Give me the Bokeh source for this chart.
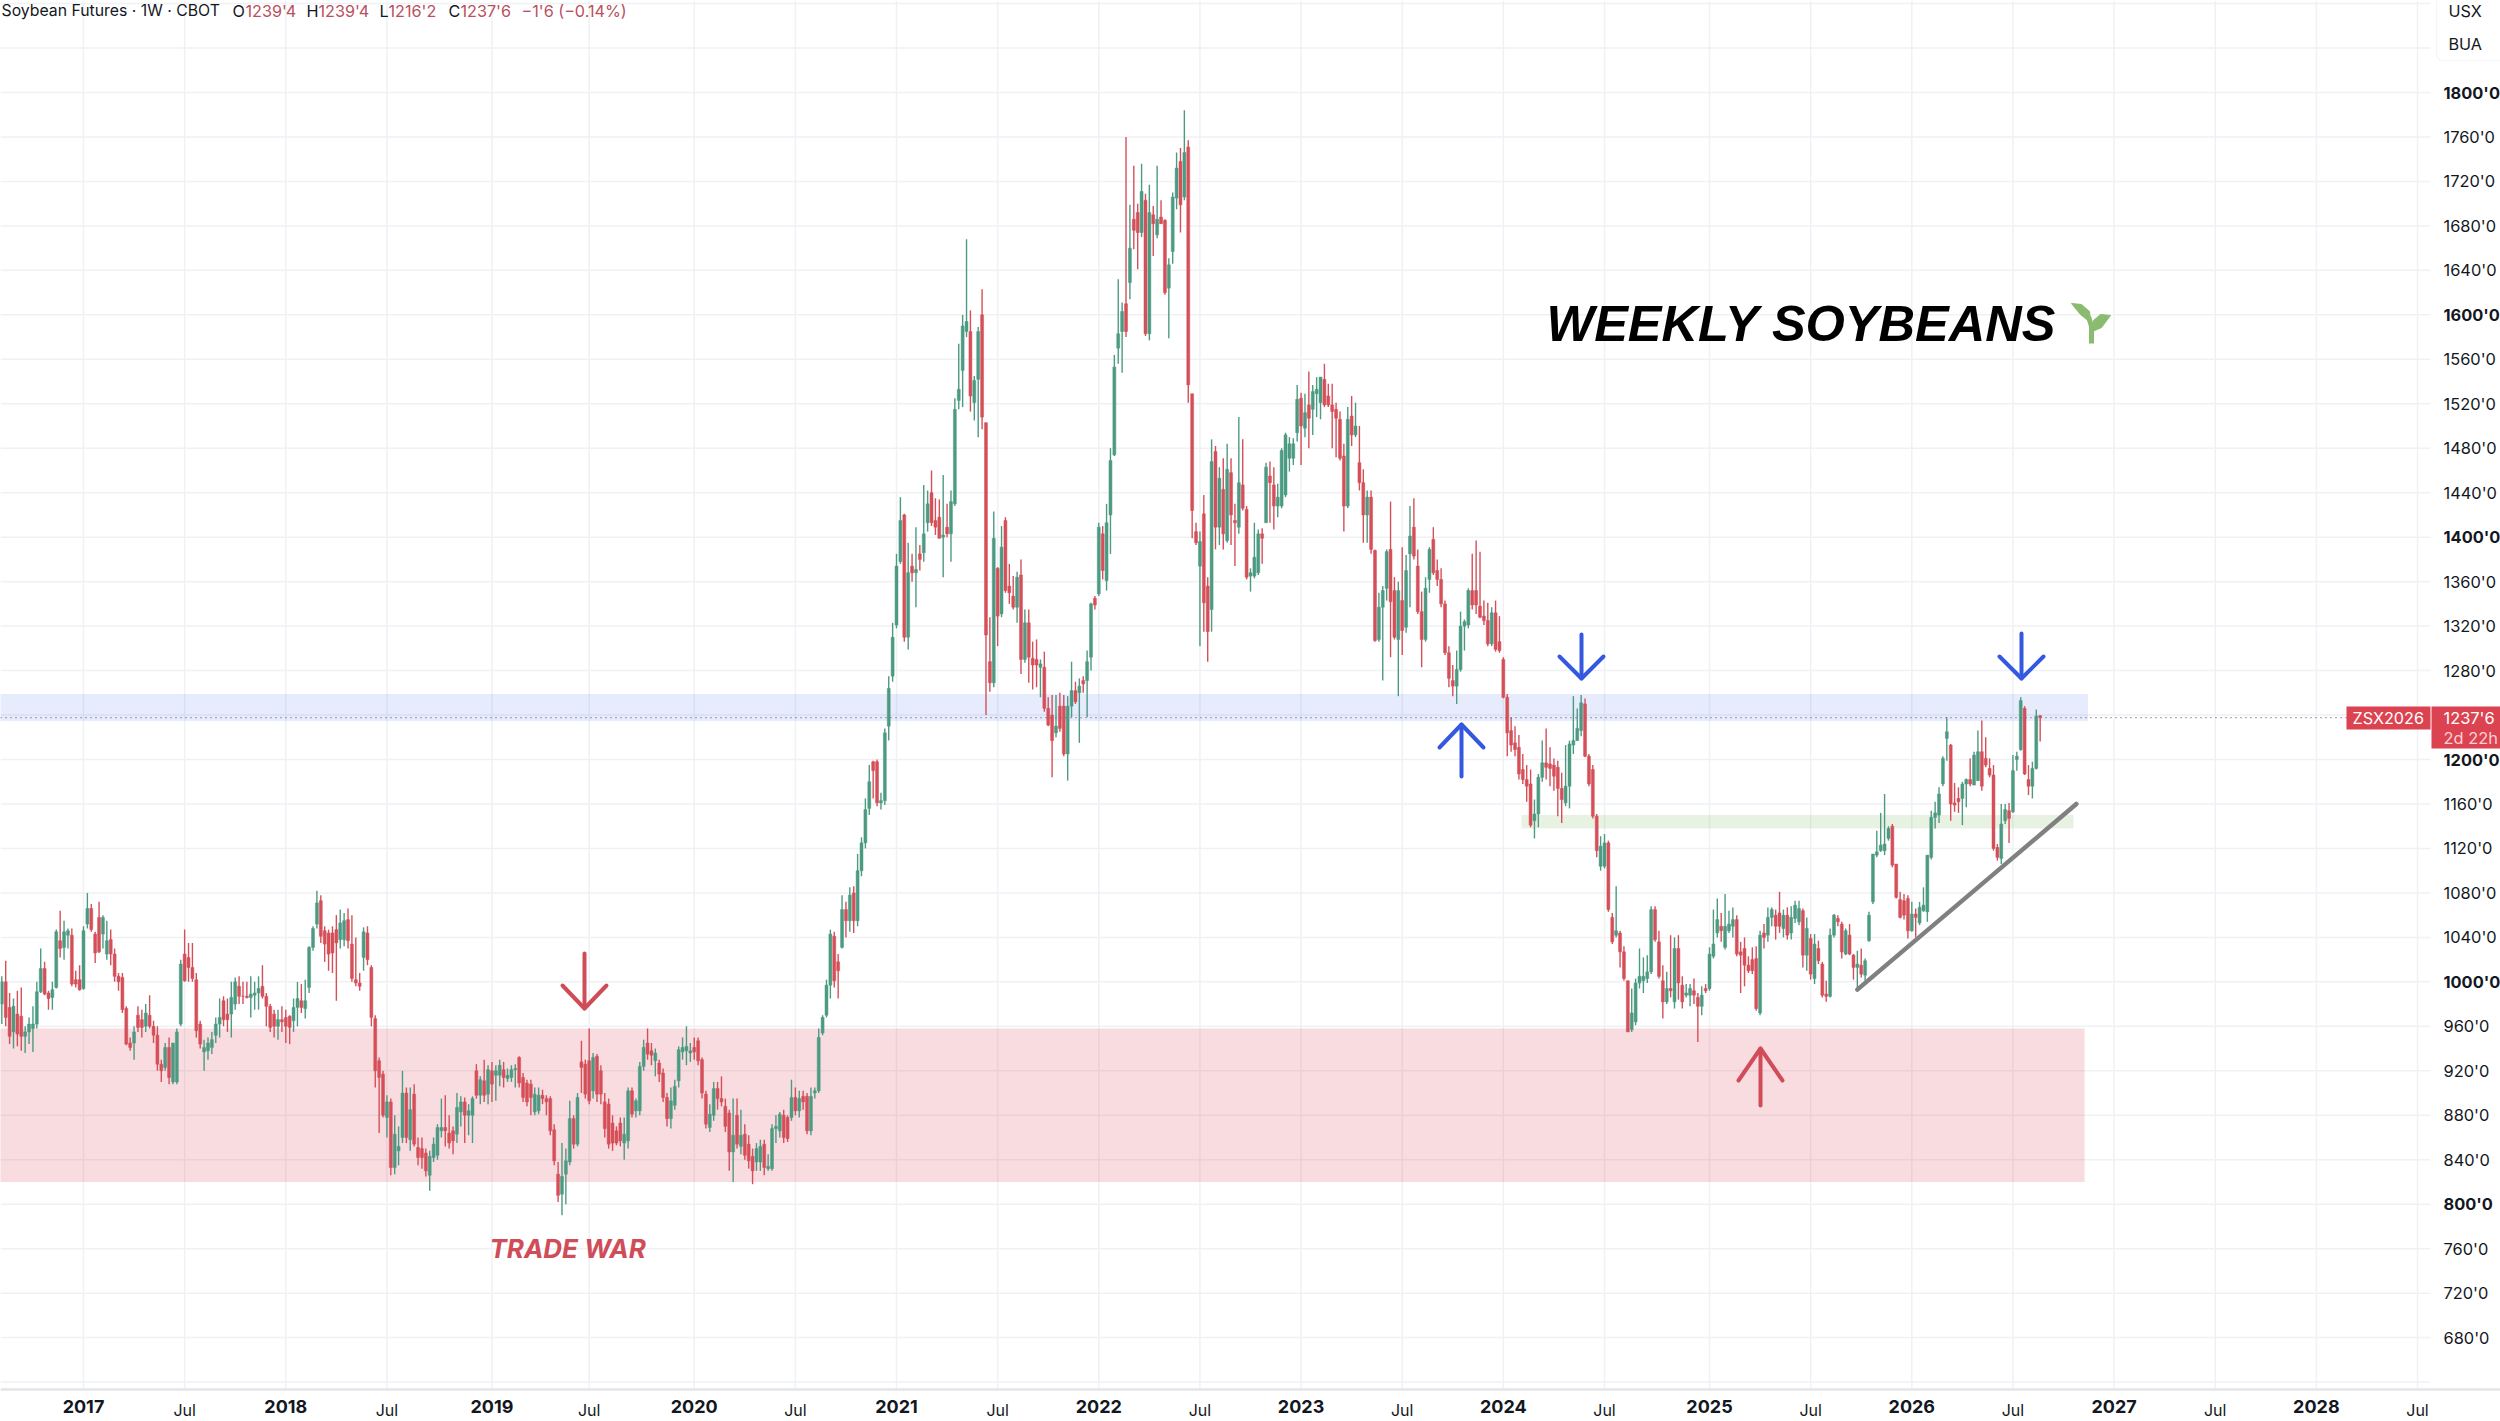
from bokeh.plotting import figure
from bokeh.models import Range1d, FixedTicker, Label, LinearAxis
from bokeh.embed import file_html
from bokeh.resources import INLINE

# weekly candles: (open, high, low, close)
candles_2016 = [(980,1005,962,1000),(1000,1019,960,968),(977,990,944,951),(955,985,940,978),(971,992,942,953),(969,995,938,951),(951,960,936,955),(955,968,944,962),(958,978,937,962),(962,1000,958,991),
(991,1030,990,1012),(1012,1018,988,989),(990,992,975,985),(986,1000,975,993),(995,1047,994,1045),(1037,1064,1022,1030),(1031,1055,1020,1045),(1042,1048,1030,1046),(1042,1048,996,998),(1002,1010,995,998),(1002,1015,992,993)]
candles_2017 = [(994,1050,993,1046),(1052,1080,1048,1066),(1066,1070,1045,1047),(1043,1045,1017,1026),(1058,1072,1026,1027),(1043,1060,1030,1058),(1025,1055,1020,1037),(1038,1047,1015,1025),(1025,1030,1000,1005),(1005,1008,992,1000),
(1004,1008,972,975),(976,978,943,944),(945,950,938,941),(945,960,930,955),(970,978,955,959),(966,975,950,959),(960,980,955,972),(970,988,958,960),(960,965,945,952),(952,960,920,926),
(926,930,910,920),(923,945,920,941),(941,950,908,914),(910,935,908,945),(910,958,908,955),(962,1020,960,1016),(1025,1047,1000,1001),(1022,1035,1000,1013),(1013,1035,1000,1003),(1002,1008,950,956),
(962,965,940,944),(937,948,920,941),(938,950,930,945),(941,955,935,948),(952,968,945,962),(962,985,950,968),(983,987,960,966),(971,985,955,966),(971,1000,950,986),(980,1004,975,1000),
(996,1005,980,987),(987,1000,980,987),(987,1000,985,986),(986,1005,968,989),(988,1000,975,990),(990,1005,975,994),(996,1015,985,987),(987,990,960,978),(978,980,955,959),(971,975,950,960),
(960,975,948,966),(966,978,955,964)]
candles_2018 = [(968,975,945,960),(969,970,944,959),(965,985,955,977),(977,1000,960,985),(983,998,972,977),(976,1002,967,983),(995,1032,990,1031),(1031,1050,1028,1048),(1052,1082,1048,1071),(1073,1078,1035,1041),
(1046,1050,1018,1034),(1044,1047,1010,1025),(1044,1050,1008,1026),(1047,1060,983,1035),(1038,1065,1030,1053),(1038,1062,1032,1055),(1056,1066,1030,1037),(1034,1060,1000,1003),(1002,1040,996,999),(999,1008,992,996),
(1022,1049,1010,1045),(1044,1050,1015,1020),(1013,1015,960,968),(967,970,905,920),(929,932,864,914),(917,920,878,880),(878,898,860,892),(892,895,826,833),(833,880,827,863),(848,870,835,852),
(860,920,855,900),(900,905,855,860),(858,905,848,885),(899,908,852,854),(851,860,835,842),(850,860,832,842),(846,850,825,830),(826,848,812,843),(842,860,838,854),(844,872,840,869),
(866,895,860,869),(869,898,852,866),(864,880,850,855),(866,870,845,857),(863,900,855,887),(883,897,870,892),(892,896,855,880),(880,890,862,884),(880,897,855,895),(920,926,895,898),
(898,915,890,912),(911,930,892,898),(899,925,890,921)]
candles_2019 = [(920,928,892,908),(916,925,893,920),(916,930,906,925),(921,928,905,914),(913,922,910,916),(914,925,910,921),(921,926,905,922),(932,933,905,909),(914,918,892,896),(909,912,888,892),
(908,912,880,896),(883,905,880,899),(884,905,881,898),(898,903,890,895),(895,898,880,892),(895,897,862,866),(867,872,835,839),(827,838,802,808),(809,855,790,825),(827,850,800,839),
(838,893,835,877),(877,880,850,854),(854,900,852,896),(928,947,900,923),(926,930,895,899),(929,958,890,893),(902,936,895,932),(933,935,892,899),(920,925,890,899),(892,900,860,868),
(890,895,850,854),(873,880,848,855),(866,870,853,855),(873,878,852,857),(855,878,840,863),(857,905,850,902),(902,905,878,881),(884,895,878,893),(884,928,880,924),(924,948,920,941),
(945,958,930,935),(938,945,925,934),(929,940,915,936),(927,930,910,917),(918,922,892,896),(896,900,870,877),(877,905,868,893),(889,912,885,906),(911,942,905,939),(937,950,930,941),
(938,960,925,942),(936,945,928,938)]
candles_2020 = [(941,950,930,937),(947,950,925,929),(930,932,895,900),(899,902,868,872),(869,890,865,881),(880,910,875,904),(904,910,885,895),(895,915,888,892),(888,895,865,870),(882,885,830,847),
(847,895,820,862),(880,895,850,854),(852,885,845,862),(863,872,840,844),(854,862,832,839),(843,850,818,830),(838,855,830,850),(838,858,830,852),(854,858,826,833),(832,845,830,834),
(832,872,830,868),(868,880,855,870),(866,883,860,881),(880,885,855,860),(878,880,856,859),(878,912,875,896),(896,905,880,884),(884,902,878,895),(897,902,885,892),(897,900,863,866),
(866,905,862,897),(900,905,895,902),(902,958,900,950),(954,970,952,968),(970,1002,968,997),(997,1047,985,1043),(1041,1045,995,1001),(1018,1025,985,1010),(1031,1078,1030,1065),(1065,1072,1040,1055),
(1055,1085,1045,1078),(1080,1086,1044,1055),(1055,1115,1050,1100),(1100,1130,1095,1125),(1125,1165,1120,1155),(1156,1195,1150,1180),(1198,1199,1165,1190),(1198,1200,1158,1161),(1161,1170,1155,1163),(1163,1228,1159,1224),
(1230,1275,1217,1264),(1275,1323,1270,1310)]
candles_2021 = [(1321,1385,1318,1374),(1378,1436,1376,1415),(1420,1421,1306,1310),(1310,1395,1299,1368),(1374,1385,1360,1368),(1368,1409,1337,1371),(1385,1393,1370,1380),(1386,1447,1378,1403),(1413,1442,1405,1430),(1440,1460,1410,1413),
(1415,1435,1402,1409),(1418,1434,1399,1399),(1400,1456,1364,1402),(1409,1430,1400,1403),(1403,1442,1378,1432),(1430,1525,1428,1515),(1523,1574,1515,1533),(1550,1600,1517,1590),(1585,1668,1580,1594),(1585,1604,1513,1527),
(1521,1545,1505,1541),(1542,1589,1490,1585),(1600,1623,1497,1508),(1503,1503,1240,1312),(1288,1328,1261,1269),(1269,1423,1265,1399),(1372,1373,1302,1329),(1331,1410,1328,1391),(1415,1418,1350,1352),(1356,1376,1340,1350),
(1347,1365,1335,1337),(1337,1369,1323,1364),(1366,1380,1277,1290),(1290,1335,1287,1323),(1323,1335,1269,1292),(1291,1306,1263,1285),(1290,1308,1265,1285),(1283,1290,1256,1286),(1283,1297,1243,1246),(1246,1256,1230,1231),
(1240,1258,1184,1217),(1224,1258,1220,1230),(1248,1260,1225,1228),(1248,1258,1203,1205),(1205,1257,1181,1248),(1248,1288,1238,1262),(1262,1270,1250,1252),(1260,1273,1215,1266),(1271,1275,1260,1268),(1271,1298,1238,1288),
(1292,1341,1280,1340),(1345,1347,1335,1339)]
candles_2022 = [(1349,1413,1347,1409),(1403,1410,1362,1370),(1361,1430,1352,1413),(1420,1480,1385,1469),(1474,1564,1473,1553),(1570,1632,1556,1583),(1585,1611,1548,1603),(1610,1760,1580,1585),(1629,1699,1614,1660),(1686,1734,1659,1676),
(1692,1700,1641,1674),(1674,1736,1670,1711),(1703,1709,1581,1583),(1583,1717,1577,1692),(1690,1698,1653,1682),(1672,1734,1669,1686),(1688,1703,1682,1682),(1685,1686,1618,1620),(1624,1651,1579,1645),(1657,1710,1646,1706),
(1705,1746,1695,1732),(1738,1750,1674,1699),(1706,1784,1703,1746),(1751,1757,1521,1537),(1529,1529,1399,1424),(1405,1413,1393,1395),(1374,1405,1302,1396),(1421,1438,1315,1341),(1356,1364,1288,1315),(1335,1488,1315,1468),
(1477,1482,1389,1409),(1409,1463,1393,1453),(1443,1471,1389,1403),(1397,1484,1395,1461),(1458,1471,1393,1420),(1415,1430,1374,1413),(1409,1508,1403,1449),(1447,1488,1424,1426),(1425,1428,1362,1364),(1365,1372,1351,1368),
(1365,1413,1363,1382),(1368,1407,1366,1403),(1403,1408,1376,1399),(1413,1467,1413,1463),(1455,1468,1413,1449),(1447,1463,1407,1428),(1428,1448,1418,1436),(1428,1480,1426,1478),(1438,1494,1436,1492),(1471,1490,1459,1484),
(1471,1489,1465,1484),(1494,1537,1486,1524)]
candles_2023 = [(1525,1530,1465,1500),(1498,1529,1490,1512),(1519,1549,1480,1507),(1515,1537,1492,1531),(1529,1544,1508,1533),(1521,1544,1506,1544),(1542,1556,1517,1519),(1527,1538,1517,1519),(1519,1538,1480,1513),(1515,1521,1472,1507),
(1506,1513,1469,1471),(1473,1484,1405,1428),(1428,1517,1426,1506),(1509,1527,1482,1492),(1492,1521,1490,1500),(1467,1500,1442,1449),(1449,1461,1395,1420),(1420,1442,1395,1436),(1436,1442,1385,1389),(1388,1389,1306,1307),
(1308,1350,1306,1337),(1337,1356,1271,1352),(1354,1389,1343,1387),(1389,1432,1292,1342),(1352,1364,1308,1310),(1308,1360,1257,1352),(1343,1391,1294,1316),(1319,1384,1314,1370),(1385,1428,1337,1401),(1409,1435,1380,1383),
(1374,1389,1331,1333),(1333,1351,1283,1308),(1308,1364,1306,1354),(1362,1391,1350,1389),(1398,1409,1366,1368),(1370,1380,1356,1362),(1362,1372,1337,1340),(1340,1343,1294,1296),(1296,1302,1265,1273),(1271,1285,1257,1266),
(1266,1298,1250,1281),(1281,1333,1279,1320),(1320,1326,1298,1324),(1321,1354,1318,1352),(1352,1385,1335,1339),(1352,1397,1331,1339),(1338,1387,1327,1328),(1329,1343,1321,1325),(1325,1341,1302,1304),(1304,1337,1302,1332),
(1332,1343,1297,1299),(1306,1329,1296,1298)]
candles_2024 = [(1290,1292,1255,1256),(1256,1259,1203,1224),(1226,1238,1207,1213),(1215,1230,1203,1209),(1211,1222,1182,1187),(1191,1205,1178,1182),(1182,1195,1162,1176),(1178,1191,1139,1141),(1145,1164,1129,1151),(1151,1187,1139,1184),
(1184,1217,1180,1197),(1197,1228,1182,1193),(1196,1211,1176,1192),(1195,1201,1172,1185),(1193,1199,1149,1174),(1174,1188,1143,1164),(1161,1213,1158,1176),(1176,1217,1156,1214),(1213,1257,1205,1217),(1217,1246,1217,1228),
(1226,1258,1221,1251),(1250,1255,1202,1203),(1203,1205,1176,1178),(1191,1195,1147,1149),(1149,1151,1112,1118),(1104,1131,1100,1122),(1104,1133,1102,1125),(1125,1127,1063,1065),(1058,1062,1034,1036),(1042,1086,1040,1046),
(1044,1046,1013,1027),(1027,1032,1001,1003),(1001,1001,955,955),(957,994,955,972),(964,1003,961,999),(999,1030,994,1005),(1001,1022,990,1005),(1003,1024,999,1009),(1009,1068,1007,1065),(1065,1068,1036,1038),
(1036,1046,1003,1005),(1001,1015,967,982),(982,1009,980,994),(994,1042,986,992),(982,1040,976,1030),(1030,1042,984,999),(997,1005,976,982),(988,998,986,990),(988,998,978,994),(992,1003,980,988),
(986,990,946,978),(978,996,970,988),(994,998,990,992)]
candles_2025 = [(994,1031,992,1025),(1023,1065,1021,1034),(1044,1075,1040,1056),(1050,1062,1036,1046),(1031,1079,1029,1050),(1046,1064,1044,1052),(1050,1067,1040,1056),(1056,1060,1023,1025),(1027,1036,990,1024),(1030,1040,996,1015),
(1015,1023,1008,1010),(1020,1031,1007,1010),(1021,1032,974,976),(972,1046,970,1042),(1044,1052,1030,1040),(1042,1067,1036,1058),(1058,1067,1050,1065),(1060,1065,1038,1050),(1062,1081,1044,1050),(1048,1065,1040,1060),
(1060,1067,1038,1042),(1044,1068,1038,1058),(1057,1073,1053,1069),(1054,1073,1051,1066),(1064,1066,1013,1024),(1024,1058,1010,1048),(1039,1043,1002,1007),(1003,1043,998,1034),(1030,1037,1016,1019),(1016,1018,986,988),
(989,1001,982,987),(987,1048,986,1042),(1042,1061,1040,1060),(1057,1060,1050,1054),(1052,1054,1021,1027),(1025,1048,1024,1046),(1042,1052,1024,1025),(1024,1025,1002,1013),(1013,1028,994,1016),(1015,1030,1004,1007),
(1006,1021,1001,1019),(1037,1063,1036,1060),(1072,1115,1070,1115),(1114,1136,1112,1117),(1118,1152,1117,1123),(1118,1169,1114,1124),(1129,1140,1127,1138),(1140,1142,1103,1105),(1106,1106,1075,1076),(1074,1081,1057,1058),
(1073,1079,1056,1060),(1075,1078,1039,1046)]
candles_2026 = [(1046,1072,1045,1061),(1061,1066,1040,1058),(1053,1072,1051,1067),(1064,1085,1063,1069),(1063,1114,1054,1114),(1112,1154,1110,1148),(1148,1162,1138,1152),(1150,1175,1143,1169),(1178,1203,1176,1201),(1219,1238,1199,1225),
(1213,1214,1145,1160),(1161,1179,1153,1159),(1165,1175,1152,1162),(1165,1180,1141,1178),(1178,1183,1157,1182),(1182,1201,1176,1178),(1177,1207,1177,1204),(1181,1226,1181,1207),(1207,1235,1172,1176),(1201,1220,1193,1195),
(1192,1201,1184,1186),(1186,1195,1118,1120),(1121,1124,1109,1112),(1111,1160,1106,1142),(1145,1160,1142,1155),(1154,1161,1125,1147),(1153,1204,1152,1190),(1200,1207,1190,1203),(1209,1256,1208,1253),(1246,1248,1186,1187),
(1182,1195,1168,1176),(1176,1198,1165,1192),(1192,1245,1191,1239),(1239.5,1239.5,1216.25,1237.75)]

year_blocks = [(-21, candles_2016), (0, candles_2017), (52, candles_2018), (105, candles_2019), (157, candles_2020), (209, candles_2021),
               (261, candles_2022), (313, candles_2023), (365, candles_2024), (418, candles_2025), (470, candles_2026)]

year_ticks = {0: "2017", 52: "2018", 105: "2019", 157: "2020", 209: "2021", 261: "2022", 313: "2023", 365: "2024", 418: "2025", 470: "2026", 522: "2027", 574: "2028"}
jul_ticks = [26, 78, 130, 183, 235, 287, 339, 391, 444, 496, 548, 600]
price_grid = list(range(640, 1881, 40))
bold_prices = [800, 1000, 1200, 1400, 1600, 1800]
hidden_prices = [640, 1240, 1840, 1880]

resistance_zone = (1235, 1258.5)
support_zone = (820, 958)
mid_zone = (1138, 1150)
last_close = 1237.75
trend_x = [456, 512.3]
trend_y = [993, 1160]

UP, DOWN = "#4d9a82", "#d54f59"
INK = "#131722"
HDR = "#b9505e"
FONT = "Inter"

def dx(px):
    return (px - 83) / 3.89

def dy(py):
    return 1800 - (py - 92) / 1.1117

p = figure(frame_width=2500, frame_height=1421, output_backend="svg", toolbar_location=None,
           x_range=Range1d(dx(0), dx(2500)), y_range=Range1d(dy(1421), dy(0)),
           y_axis_location="right", min_border_left=0, min_border_top=0, min_border_right=0, min_border_bottom=0,
           background_fill_color="white", border_fill_color="white", outline_line_color=None)

def style_axis(a, size, bold=False):
    a.major_tick_line_color = None
    a.minor_tick_line_color = None
    a.major_tick_in = 0
    a.major_tick_out = 0
    a.minor_tick_in = 0
    a.minor_tick_out = 0
    a.axis_line_color = None
    a.major_label_text_font = FONT
    a.major_label_text_font_size = size
    a.major_label_text_color = INK
    a.major_label_text_font_style = "bold" if bold else "normal"

# axes: labels sit over the frame's outer strip
jul_axis = p.xaxis[0]
jul_axis.ticker = FixedTicker(ticks=jul_ticks)
jul_axis.major_label_overrides = {k: "Jul" for k in jul_ticks}
jul_axis.fixed_location = dy(1420)
jul_axis.major_label_standoff = -21
style_axis(jul_axis, "16px")

year_axis = LinearAxis(ticker=FixedTicker(ticks=list(year_ticks)), major_label_overrides=dict(year_ticks),
                       fixed_location=dy(1420), major_label_standoff=-21)
style_axis(year_axis, "18px", bold=True)
p.add_layout(year_axis, "below")

price_axis = p.yaxis[0]
normal_prices = [v for v in price_grid if v not in hidden_prices and v not in bold_prices]
price_axis.ticker = FixedTicker(ticks=normal_prices)
price_axis.major_label_overrides = {v: f"{v}'0" for v in normal_prices}
price_axis.fixed_location = dx(2499)
price_axis.major_label_standoff = -56
style_axis(price_axis, "16.4px")

bold_axis = LinearAxis(ticker=FixedTicker(ticks=bold_prices), major_label_overrides={v: f"{v}'0" for v in bold_prices},
                       fixed_location=dx(2499), major_label_standoff=-56)
style_axis(bold_axis, "16.4px", bold=True)
p.add_layout(bold_axis, "right")

p.xgrid.visible = False
p.ygrid.visible = False
all_x = sorted(list(year_ticks) + jul_ticks)
GRID = "#eff1f4"
p.segment(all_x, dy(0), all_x, dy(1389), line_color=GRID, line_width=1.5, level="underlay")
p.segment(dx(0), price_grid, dx(2430), price_grid, line_color=GRID, line_width=1.5, level="underlay")
p.segment([dx(0)], [dy(1389)], [dx(2500)], [dy(1389)], line_color="#e3e4e6", line_width=2.5)
p.line([dx(2500), dx(2440), dx(2436), dx(2436)], [dy(60), dy(60), dy(56), dy(0)], line_color="#f4f5f7", line_width=1.2)

def text(x, y, s, color=INK, size="16.2px", style="normal", font=FONT, align="left", **kw):
    p.add_layout(Label(x=dx(x), y=dy(y), text=s, text_color=color, text_font=font, text_font_size=size,
                       text_font_style=style, text_align=align, text_baseline="middle", **kw))

# zones
xl = dx(-6)
p.quad(left=[xl], right=[dx(2087)], bottom=[resistance_zone[0]], top=[resistance_zone[1]], fill_color="#3c6eeb", fill_alpha=0.13,
       line_color="#3c6eeb", line_alpha=0.08)
p.quad(left=[xl], right=[dx(2084)], bottom=[support_zone[0]], top=[support_zone[1]], fill_color="#dc465a", fill_alpha=0.19, line_color=None)
p.quad(left=[dx(1521)], right=[dx(2073)], bottom=[mid_zone[0]], top=[mid_zone[1]], fill_color="#78b45a", fill_alpha=0.17, line_color=None)

# candles
xs, opens, highs, lows, closes = [], [], [], [], []
for start, block in year_blocks:
    for k, (o, h, l, c) in enumerate(block):
        xs.append(start + k)
        opens.append(o)
        highs.append(h)
        lows.append(l)
        closes.append(c)
colors = [UP if c > o else DOWN for o, c in zip(opens, closes)]
p.segment(xs, highs, xs, lows, color=colors, line_width=1.4)
p.vbar(x=xs, width=0.76, bottom=[min(o, c) for o, c in zip(opens, closes)], top=[max(o, c) for o, c in zip(opens, closes)],
       fill_color=colors, line_color=colors, line_width=0.5)

# last-price line
p.line([dx(0), dx(2346)], [last_close, last_close], line_color="#7a5a70", line_width=1.2, line_dash="1 4")

# trend line
p.line(trend_x, trend_y, line_color="#808080", line_width=4.5, line_cap="round")

def arrow(x, tail, tip, wing, half, color):
    p.line([dx(x), dx(x)], [dy(tail), dy(tip)], line_color=color, line_width=4, line_cap="round")
    p.line([dx(x - half), dx(x), dx(x + half)], [dy(wing), dy(tip), dy(wing)], line_color=color, line_width=4,
           line_cap="round", line_join="round")

BLUE, RED = "#3558e0", "#d04c58"
arrow(584, 953, 1008, 985, 22, RED)
arrow(1760, 1105, 1048, 1080, 22, RED)
arrow(1581, 634, 678, 656, 22, BLUE)
arrow(2021, 633, 678, 656, 22, BLUE)
arrow(1461, 776, 724, 747, 22, BLUE)

# seedling
SPROUT = "#8abb6e"
p.line([dx(2091), dx(2091), dx(2088)], [dy(343), dy(326), dy(316)], line_color=SPROUT, line_width=5)
p.patch([dx(2071), dx(2081), dx(2089), dx(2090), dx(2080)], [dy(303), dy(304), dy(311), dy(322), dy(314)], fill_color=SPROUT, line_color=SPROUT)
p.patch([dx(2110), dx(2100), dx(2093), dx(2092), dx(2101)], [dy(315), dy(314), dy(320), dy(331), dy(327)], fill_color=SPROUT, line_color=SPROUT)

# annotation texts
text(1546, 323, "WEEKLY SOYBEANS", color="#000000", size="50.5px", style="bold italic", font="Liberation Sans")
text(489, 1248, "TRADE WAR", color=RED, size="26px", style="bold italic")

# header
text(1, 10, "Soybean Futures · 1W · CBOT", size="15.8px")
for x, s in ((232, "O"), (306, "H"), (379, "L"), (448, "C")):
    text(x, 10, s)
for x, s in ((245, "1239'4"), (318, "1239'4"), (388, "1216'2"), (460, "1237'6"), (521, "−1'6 (−0.14%)")):
    text(x, 10, s, color=HDR)

text(2448, 10, "USX")
text(2448, 43, "BUA")

# price tags
TAG = "#dc4351"
p.quad(left=[dx(2346)], right=[dx(2430)], top=[dy(706)], bottom=[dy(729)], fill_color=TAG, line_color=None)
p.quad(left=[dx(2431)], right=[dx(2500)], top=[dy(706)], bottom=[dy(748)], fill_color=TAG, line_color=None)
text(2352, 717.5, "ZSX2026", color="#ffffff", size="16.2px")
text(2443, 717.5, "1237'6", color="#ffffff", size="16.4px")
text(2443, 737.5, "2d 22h", color="#fbd0d4", size="16.4px")

open("out.html", "w").write(file_html(p, INLINE))
